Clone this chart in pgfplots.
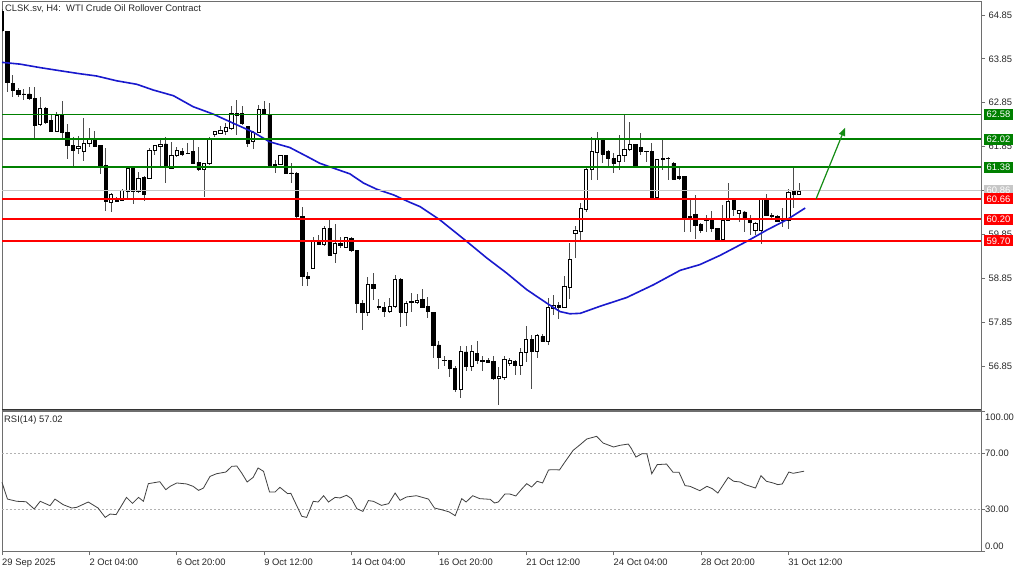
\documentclass[border=0pt]{standalone}
\usepackage{pgfplots}
\pgfplotsset{compat=1.18}
\usepackage{pgfplotstable}
\usepackage{fontspec}
\setmainfont{Liberation Sans}
\usetikzlibrary{arrows.meta}

\definecolor{lvgreen}{RGB}{0,128,0}
\definecolor{lvred}{RGB}{255,0,0}
\definecolor{mablue}{RGB}{25,25,205}
\definecolor{framegray}{RGB}{110,110,110}
\definecolor{txt}{RGB}{40,40,40}
\definecolor{arrowgreen}{RGB}{20,140,20}

\pgfplotstableread{
k o h l c
0 64.93 64.98 64.47 64.49
1 64.47 64.47 63.10 63.31
2 63.29 63.48 62.97 63.13
3 63.13 63.18 62.99 63.05
4 63.05 63.16 62.91 63.04
5 63.05 63.22 62.91 62.94
6 62.94 63.22 62.02 62.33
7 62.36 62.99 62.31 62.71
8 62.71 62.76 62.37 62.40
9 62.44 62.57 62.19 62.20
10 62.20 62.63 62.18 62.57
11 62.57 62.90 62.02 62.17
12 62.18 62.36 61.58 61.87
13 61.87 62.06 61.40 61.77
14 61.80 62.09 61.68 61.85
15 61.75 62.50 61.53 61.93
16 61.93 62.27 61.85 62.04
17 62.02 62.21 61.84 61.85
18 61.87 61.87 61.22 61.43
19 61.43 61.81 60.39 60.60
20 60.58 60.79 60.37 60.75
21 60.65 60.71 60.58 60.61
22 60.62 60.88 60.62 60.86
23 60.83 61.37 60.64 61.36
24 61.37 61.37 60.54 60.84
25 60.84 61.28 60.79 61.13
26 61.14 61.17 60.61 60.76
27 61.13 61.81 61.12 61.77
28 61.77 61.89 61.66 61.87
29 61.85 62.00 61.40 61.91
30 61.91 62.08 61.03 61.40
31 61.36 61.96 61.36 61.64
32 61.64 61.85 61.62 61.77
33 61.74 61.81 61.64 61.68
34 61.70 61.93 61.68 61.69
35 61.74 62.00 61.46 61.47
36 61.49 61.85 61.30 61.33
37 61.33 61.47 60.71 61.46
38 61.46 62.08 61.43 62.04
39 62.13 62.21 62.08 62.19
40 62.15 62.31 62.14 62.23
41 62.19 62.38 62.12 62.29
42 62.27 62.78 62.23 62.61
43 62.57 62.91 62.12 62.61
44 62.61 62.78 62.34 62.37
45 62.31 62.32 61.84 61.93
46 61.96 62.21 61.79 62.17
47 62.18 62.80 62.18 62.70
48 62.70 62.88 62.57 62.59
49 62.59 62.84 61.42 61.43
50 61.43 61.55 61.24 61.45
51 61.45 61.66 61.43 61.64
52 61.64 61.66 61.23 61.23
53 61.25 61.47 61.02 61.24
54 61.24 61.26 60.18 60.26
55 60.26 60.48 58.68 58.89
56 58.90 59.00 58.68 58.84
57 59.08 59.80 59.08 59.71
58 59.71 59.84 59.61 59.63
59 59.61 60.03 59.59 59.99
60 59.98 60.18 59.35 59.38
61 59.41 60.09 59.19 59.65
62 59.65 59.80 59.53 59.59
63 59.56 59.80 59.53 59.78
64 59.76 59.79 59.44 59.48
65 59.48 59.50 58.05 58.28
66 58.28 58.36 57.67 58.08
67 58.08 58.89 57.98 58.70
68 58.70 58.97 58.36 58.62
69 58.20 58.37 58.13 58.18
70 58.19 58.30 57.96 58.09
71 58.09 58.41 58.05 58.21
72 58.21 58.93 58.17 58.83
73 58.83 58.85 57.75 58.08
74 58.08 58.32 57.76 58.27
75 58.31 58.51 58.09 58.33
76 58.30 58.49 58.26 58.34
77 58.36 58.61 58.17 58.19
78 58.21 58.43 57.94 58.09
79 58.08 58.09 57.03 57.31
80 57.33 57.41 56.79 57.05
81 56.98 57.07 56.86 56.97
82 56.98 56.99 56.61 56.80
83 56.80 56.84 56.25 56.31
84 56.31 57.30 56.13 57.18
85 57.17 57.30 56.73 56.84
86 56.84 57.32 56.73 57.18
87 57.14 57.41 56.89 56.98
88 56.98 57.09 56.73 56.96
89 56.98 57.03 56.92 56.94
90 56.95 57.07 56.54 56.56
91 56.56 56.82 55.97 56.61
92 56.59 57.07 56.54 56.99
93 56.92 57.03 56.84 56.98
94 56.95 56.99 56.65 56.86
95 56.86 57.26 56.65 57.17
96 57.17 57.77 56.95 57.45
97 57.45 57.56 56.33 57.18
98 57.18 57.58 57.03 57.55
99 57.52 57.58 57.39 57.41
100 57.41 58.40 57.32 58.19
101 58.17 58.47 58.02 58.23
102 58.24 58.30 57.93 58.19
103 58.19 58.89 58.17 58.66
104 58.65 59.65 58.38 59.27
105 59.87 60.03 59.30 59.95
106 59.91 60.56 59.70 60.45
107 60.41 61.36 60.37 61.32
108 61.32 62.06 61.09 61.74
109 61.72 62.19 61.09 62.02
110 62.00 62.02 61.47 61.68
111 61.74 61.78 61.40 61.59
112 61.57 61.70 61.25 61.47
113 61.52 62.12 61.32 61.65
114 61.66 62.57 61.51 61.78
115 61.79 62.42 61.74 61.90
116 61.90 61.90 61.38 61.40
117 61.83 62.15 61.66 61.75
118 61.75 61.76 61.51 61.73
119 61.75 61.93 60.70 60.70
120 60.70 61.56 60.69 61.55
121 61.55 62.04 61.32 61.59
122 61.59 61.62 61.09 61.58
123 61.47 61.49 61.09 61.11
124 61.16 61.36 61.09 61.13
125 61.16 61.19 59.91 60.23
126 60.23 60.67 59.91 60.26
127 60.31 60.75 59.75 60.05
128 60.07 60.11 59.88 59.93
129 60.17 60.29 59.91 60.16
130 60.18 60.39 59.91 59.98
131 59.98 59.98 59.70 59.73
132 59.73 60.52 59.69 60.16
133 60.16 61.02 60.16 60.61
134 60.63 60.65 60.26 60.41
135 60.33 60.41 60.14 60.39
136 60.36 60.39 59.91 60.18
137 60.17 60.29 59.84 60.13
138 59.95 60.13 59.84 60.10
139 59.95 60.69 59.63 60.67
140 60.66 60.77 60.26 60.28
141 60.29 60.33 60.23 60.27
142 60.25 60.29 60.13 60.14
143 60.20 60.45 60.03 60.16
144 60.16 60.89 59.98 60.81
145 60.83 61.37 60.45 60.77
146 60.77 61.02 60.75 60.83
147 60.86 60.86 60.86 60.86
}\candles

\pgfplotstableread{
k v
0 63.77
3.3 63.73
7 63.65
10.6 63.58
14.3 63.51
17.3 63.46
21 63.35
24.7 63.27
27.7 63.14
31.4 63.01
35 62.76
38.7 62.59
42.4 62.38
46 62.18
49 61.96
52.7 61.83
56.4 61.59
58.2 61.47
60.7 61.36
63.7 61.23
66.2 61.02
68.6 60.88
71.7 60.75
74.7 60.58
76.6 60.48
80.2 60.18
85.1 59.69
88.8 59.31
92.4 58.97
96.1 58.59
99.8 58.28
102.2 58.09
104.0 58.04
105.9 58.05
109.5 58.21
114.4 58.41
119.3 58.70
124.2 59.03
127.8 59.16
131.5 59.37
136.4 59.69
140.1 59.95
143.7 60.18
147.1 60.45
}\maline

\pgfplotstableread{
k v
0 49.0
1 37.1
2.7 35.5
4.4 35.2
5.9 30.0
7.0 35.5
8.8 32.4
9.7 37.1
11.2 33.1
12.8 30.7
13.7 31.2
15.8 35.0
17.6 30.7
18.9 24.0
19.8 26.4
20.9 26.0
22.8 38.3
23.9 34.0
25.0 38.3
25.9 35.5
26.8 48.1
28.9 49.5
30.0 43.8
30.8 46.2
32.0 48.6
33.8 47.9
35.0 46.2
36.0 43.3
36.9 45.0
38.1 53.3
39.3 55.2
41.0 56.4
42.1 60.5
43.0 60.7
43.9 55.7
44.9 49.3
46.0 52.6
46.9 59.3
47.9 56.9
49.0 42.1
50.0 42.1
50.9 45.5
52.3 41.0
52.9 41.2
54.9 24.8
55.8 24.0
57.0 35.5
57.9 35.0
58.9 39.5
59.8 35.0
61.0 38.3
61.9 37.9
63.1 39.8
64.0 37.4
65.0 30.2
66.1 28.3
67.1 36.0
68.0 35.5
69.5 32.6
70.8 33.8
72.0 41.4
72.9 36.2
74.1 38.6
75.9 39.5
78.1 37.1
79.2 30.7
80.5 29.5
81.9 27.9
83.0 25.2
84.2 37.4
85.0 35.0
86.2 39.5
87.5 37.4
89.4 36.9
90.2 34.3
90.9 35.0
92.1 40.7
93.0 40.7
94.1 39.3
95.2 44.3
96.1 48.1
97.0 45.7
98.0 49.8
99.0 48.6
100.1 57.9
101.0 58.1
102.1 57.9
103.1 63.6
104.6 71.9
105.9 76.0
107.1 80.0
108.9 81.9
110.1 77.1
112.0 74.3
113.2 75.5
114.7 76.4
115.2 73.6
116.1 67.1
117.2 69.5
118.1 69.5
119.0 55.2
120.0 61.7
121.7 62.1
122.9 56.2
124.0 56.2
125.1 46.7
126.0 46.2
127.8 43.1
129.1 46.2
130.1 44.5
131.1 41.4
133.0 52.6
134.0 49.8
135.2 49.3
136.1 47.4
138.0 45.0
139.0 53.8
140.0 49.8
141.2 48.6
142.1 47.4
142.9 47.9
144.1 56.4
144.9 55.5
146.9 57.0
}\rsi

\pgfplotsset{
  pane/.style={scale only axis, width=979pt, xmin=0, xmax=179.3, anchor=south west},
  mainpane/.style={pane, at={(2pt,160pt)}, height=409pt, ymin=55.847, ymax=65.169},
}
\newcommand{\fs}{\fontsize{9.4}{10.5}\selectfont}

\begin{document}
\begin{tikzpicture}
\fill[white] (0pt,0pt) rectangle (1024pt,570pt);
\useasboundingbox (0pt,0pt) rectangle (1024pt,570pt);

% main pane: frame, ticks, wicks
\begin{axis}[mainpane,
  axis line style={framegray, line width=0.8pt},
  xtick=\empty,
  ytick={56.85,57.85,58.85,59.85,60.85,61.85,62.85,63.85,64.85},
  ytick pos=right, yticklabel pos=right,
  tick align=outside, major tick length=4pt,
  tick style={framegray, line width=0.8pt},
  yticklabel style={font=\fs, text=txt, /pgf/number format/fixed, /pgf/number format/fixed zerofill, /pgf/number format/precision=2},
  /pgf/number format/assume math mode=true,
]
\addplot[draw=none, mark=none, error bars/.cd, y dir=both, y explicit, error mark=none,
  error bar style={draw=black!70, line width=0.9pt, solid}]
  table[x=k, y expr={(\thisrow{h}+\thisrow{l})/2}, y error expr={(\thisrow{h}-\thisrow{l})/2}] {\candles};
\end{axis}

% candle bodies
\begin{axis}[mainpane, hide axis, ybar stacked, bar width=0.6]
\addplot[draw=none, fill=none] table[x=k, y expr={min(\thisrow{o},\thisrow{c})}] {\candles};
\addplot[draw=black, fill=white, line width=0.8pt] table[x=k, y expr={\thisrow{c}>=\thisrow{o} ? \thisrow{c}-\thisrow{o} : 0}] {\candles};
\addplot[draw=black, fill=black, line width=0.8pt] table[x=k, y expr={\thisrow{c}<\thisrow{o} ? \thisrow{o}-\thisrow{c} : 0}] {\candles};
\end{axis}

% overlays
\begin{axis}[mainpane, hide axis, clip=false]
\addplot[mablue, line width=1.6pt] table[x=k, y=v] {\maline};
\addplot[black!22, line width=0.8pt] coordinates {(0,60.86) (179.3,60.86)};
\addplot[lvgreen, line width=1.5pt] coordinates {(0,62.58) (179.3,62.58)};
\addplot[lvgreen, line width=1.5pt] coordinates {(0,62.02) (179.3,62.02)};
\addplot[lvgreen, line width=1.5pt] coordinates {(0,61.38) (179.3,61.38)};
\addplot[lvred, line width=1.5pt] coordinates {(0,60.66) (179.3,60.66)};
\addplot[lvred, line width=1.5pt] coordinates {(0,60.20) (179.3,60.20)};
\addplot[lvred, line width=1.5pt] coordinates {(0,59.70) (179.3,59.70)};
\draw[-{Triangle[length=8pt,width=6.5pt]}, arrowgreen, line width=1.2pt] (axis cs:149.1,60.66) -- (axis cs:154.4,62.28);
\begin{scope}[every node/.style={anchor=west, font=\fs, text=white, inner xsep=3pt, inner ysep=0pt, minimum height=11pt, xshift=2.5pt}]
\node[fill=black!22] at (axis cs:179.3,60.86) {60.86};
\node[fill=lvgreen] at (axis cs:179.3,62.58) {62.58};
\node[fill=lvgreen] at (axis cs:179.3,62.02) {62.02};
\node[fill=lvgreen] at (axis cs:179.3,61.38) {61.38};
\node[fill=lvred] at (axis cs:179.3,60.66) {60.66};
\node[fill=lvred] at (axis cs:179.3,60.20) {60.20};
\node[fill=lvred] at (axis cs:179.3,59.70) {59.70};
\end{scope}
\node[anchor=west, font=\fs, text=txt, inner sep=0pt] at (rel axis cs:0,1) [xshift=3pt, yshift=-8pt] {CLSK.sv, H4:\ \ WTI Crude Oil Rollover Contract};
\end{axis}
\draw[black!80, line width=1pt] (2pt,160pt) -- (981pt,160pt);

% RSI pane
\begin{axis}[pane, at={(2pt,19pt)}, height=140pt, ymin=0, ymax=100, clip=false,
  axis line style={framegray, line width=0.8pt},
  xtick={0,16,...,144},
  xticklabels={29 Sep 2025, 2 Oct 04:00, 6 Oct 20:00, 9 Oct 12:00, 14 Oct 04:00, 16 Oct 20:00, 21 Oct 12:00, 24 Oct 04:00, 28 Oct 20:00, 31 Oct 12:00},
  xtick pos=bottom,
  ytick={0,30,70,100}, yticklabels={}, ytick pos=right,
  tick align=outside, major tick length=4pt,
  tick style={framegray, line width=0.8pt},
  xticklabel style={font=\fs, text=txt, anchor=north west, inner xsep=0pt},
]
\addplot[black!30, dash pattern=on 2pt off 2pt, line width=0.6pt] coordinates {(0,70) (179.3,70)};
\addplot[black!30, dash pattern=on 2pt off 2pt, line width=0.6pt] coordinates {(0,30) (179.3,30)};
\addplot[black!75, line width=0.8pt] table[x=k, y=v] {\rsi};
\node[anchor=west, font=\fs, text=txt, inner sep=0pt] at (rel axis cs:0,1) [xshift=2pt, yshift=-9pt] {RSI(14) 57.02};
\begin{scope}[every node/.style={anchor=west, font=\fs, text=txt, inner sep=0pt}]
\node at (axis cs:179.3,100) [xshift=4pt, yshift=-6pt] {100.00};
\node at (axis cs:179.3,70) [xshift=4pt] {70.00};
\node at (axis cs:179.3,30) [xshift=4pt] {30.00};
\node at (axis cs:179.3,0) [xshift=4pt, yshift=5pt] {0.00};
\end{scope}
\end{axis}
\end{tikzpicture}
\end{document}
